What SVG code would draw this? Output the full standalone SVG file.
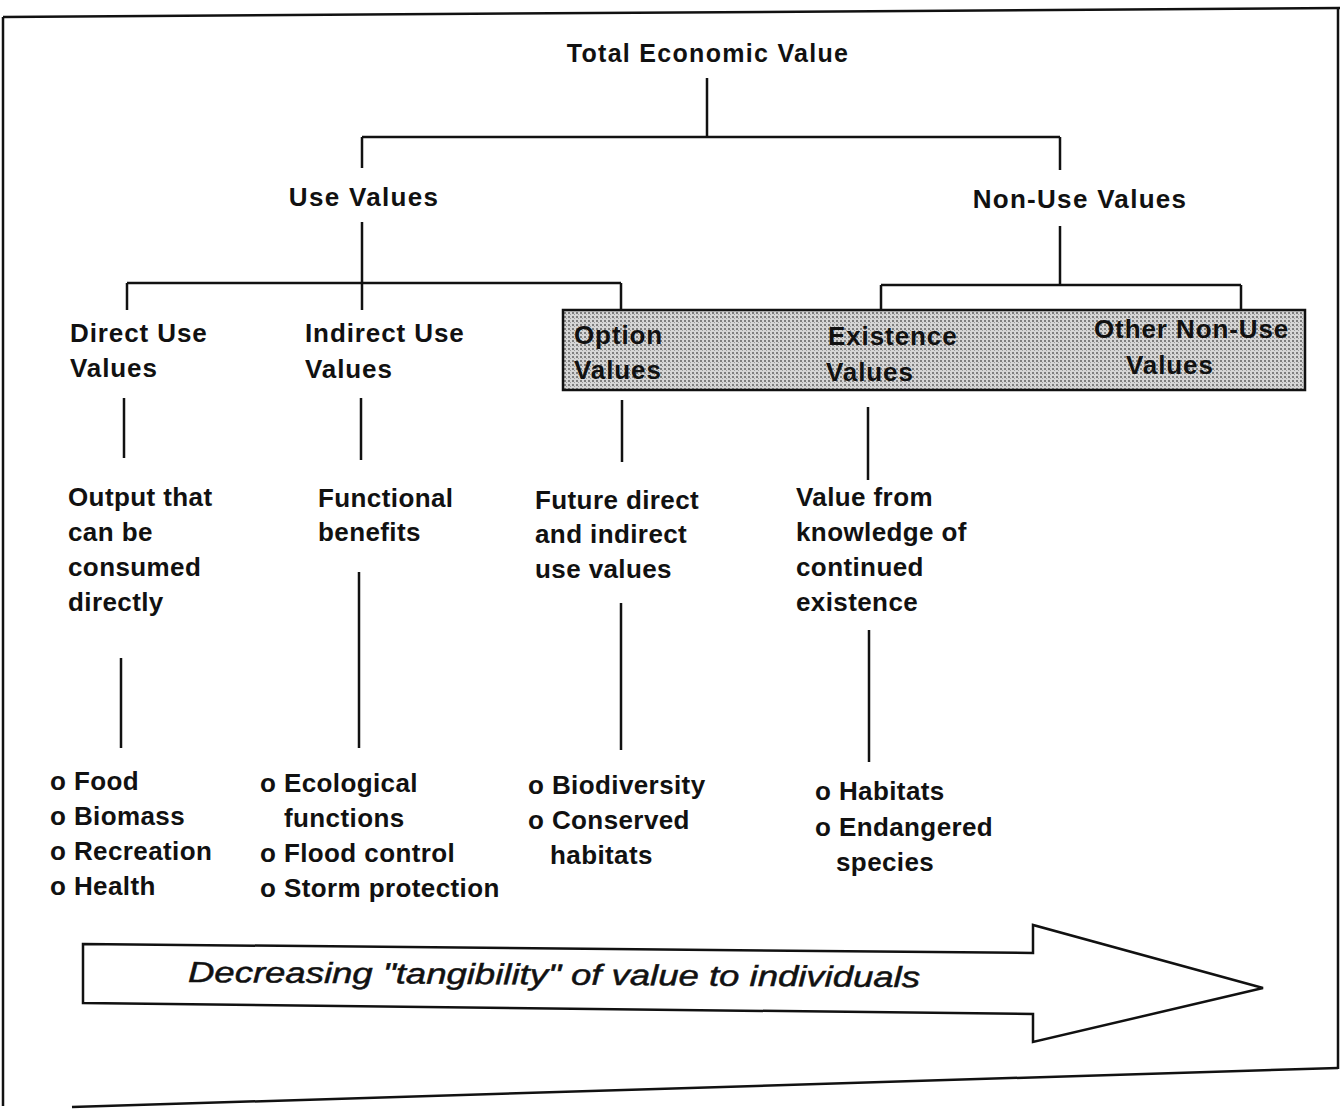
<svg xmlns="http://www.w3.org/2000/svg" width="1343" height="1110" viewBox="0 0 1343 1110">
<style>
.t{font-family:"Liberation Sans",Arial,sans-serif;font-weight:bold;font-size:26px;letter-spacing:0.4px;fill:#111}
.h{letter-spacing:1.3px}
.s{letter-spacing:0.9px}
.c{stroke:#111;stroke-width:2.5;fill:none}
.b{stroke:#111;stroke-width:2.5;fill:none}
</style>
<defs>
<pattern id="stip" width="4" height="4" patternUnits="userSpaceOnUse">
<rect width="4" height="4" fill="#d6d6d6"/>
<rect x="0" y="0" width="2" height="2" fill="#7e7e7e"/>
<rect x="2" y="2" width="1" height="1" fill="#9c9c9c"/>
</pattern>
</defs>
<rect width="1343" height="1110" fill="#fff"/>
<g id="border">
<path class="b" d="M3,17 L1340,8"/>
<path class="b" d="M3,17 L3,1106"/>
<path class="b" d="M1338,8 L1338,1069"/>
<path class="b" d="M72,1107 L1338,1068"/>
</g>
<g id="connectors">
<path class="c" d="M707,78 V137 M362,137 H1060 M362,137 V168 M1060,137 V170"/>
<path class="c" d="M362,222 V283 M127,283 H621 M127,283 V310 M362,283 V310 M621,283 V310"/>
<path class="c" d="M1060,226 V285 M881,285 H1241 M881,285 V310 M1241,285 V310"/>
<path class="c" d="M124,398 V458 M361,398 V460 M622,400 V462 M868,407 V480"/>
<path class="c" d="M121,658 V748 M359,572 V748 M621,603 V750 M869,630 V762"/>
</g>
<g id="shade">
<rect x="563" y="310" width="742" height="80" fill="url(#stip)" stroke="#111" stroke-width="2.5"/>
</g>
<g id="total"><text class="t h" x="708" y="62" text-anchor="middle" style="font-size:25px">Total Economic Value</text></g>
<g id="use"><text class="t h" x="364" y="206" text-anchor="middle">Use Values</text></g>
<g id="nonuse"><text class="t h" x="1080" y="208" text-anchor="middle">Non-Use Values</text></g>
<g id="direct"><text class="t s" x="70" y="342">Direct Use</text><text class="t s" x="70" y="377">Values</text></g>
<g id="indirect"><text class="t s" x="305" y="342">Indirect Use</text><text class="t s" x="305" y="378">Values</text></g>
<g id="option"><text class="t s" x="574" y="344">Option</text><text class="t s" x="574" y="379">Values</text></g>
<g id="existence"><text class="t s" x="828" y="345">Existence</text><text class="t s" x="826" y="381">Values</text></g>
<g id="othernonuse"><text class="t s" x="1094" y="338">Other Non-Use</text><text class="t s" x="1126" y="374">Values</text></g>
<g id="output"><text class="t" x="68" y="506">Output that</text><text class="t" x="68" y="541">can be</text><text class="t" x="68" y="576">consumed</text><text class="t" x="68" y="611">directly</text></g>
<g id="functional"><text class="t" x="318" y="507">Functional</text><text class="t" x="318" y="541">benefits</text></g>
<g id="future"><text class="t" x="535" y="509">Future direct</text><text class="t" x="535" y="543">and indirect</text><text class="t" x="535" y="578">use values</text></g>
<g id="valuefrom"><text class="t" x="796" y="506">Value from</text><text class="t" x="796" y="541">knowledge of</text><text class="t" x="796" y="576">continued</text><text class="t" x="796" y="611">existence</text></g>
<g id="directlist"><text class="t" x="50" y="790">o Food</text><text class="t" x="50" y="825">o Biomass</text><text class="t" x="50" y="860">o Recreation</text><text class="t" x="50" y="895">o Health</text></g>
<g id="indirectlist"><text class="t" x="260" y="792">o Ecological</text><text class="t" x="284" y="827">functions</text><text class="t" x="260" y="862">o Flood control</text><text class="t" x="260" y="897">o Storm protection</text></g>
<g id="optionlist"><text class="t" x="528" y="794">o Biodiversity</text><text class="t" x="528" y="829">o Conserved</text><text class="t" x="550" y="864">habitats</text></g>
<g id="existencelist"><text class="t" x="815" y="800">o Habitats</text><text class="t" x="815" y="836">o Endangered</text><text class="t" x="836" y="871">species</text></g>
<g id="arrow">
<path d="M83,944 L1033,953 L1033,925 L1263,988 L1033,1042 L1033,1014 L83,1003 Z" fill="#fff" stroke="#111" stroke-width="2.5" stroke-linejoin="miter"/>
<text x="188" y="982" transform="rotate(0.4 188 982)" textLength="732" lengthAdjust="spacingAndGlyphs" style="font-family:'Liberation Sans',Arial,sans-serif;font-style:italic;font-size:29px;fill:#111;stroke:#111;stroke-width:0.5">Decreasing "tangibility" of value to individuals</text>
</g>
</svg>
